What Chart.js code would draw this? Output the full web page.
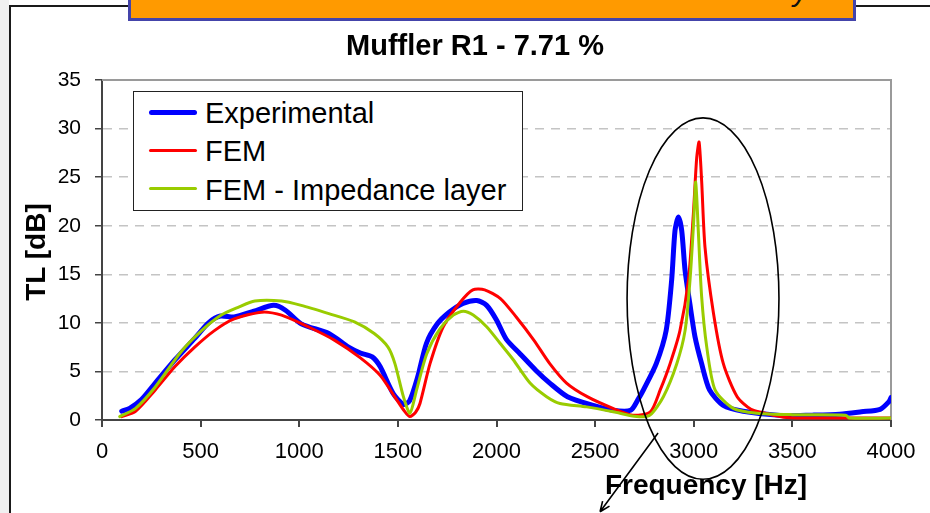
<!DOCTYPE html>
<html>
<head>
<meta charset="utf-8">
<script src="https://cdn.jsdelivr.net/npm/chart.js@4.4.1/dist/chart.umd.min.js"></script>
<style>
  html, body { margin: 0; padding: 0; background: #fff; }
  #wrap { position: relative; width: 930px; height: 513px; overflow: hidden; font-family: "Liberation Sans", Arial, sans-serif; background: #fff; }
  #side { position: absolute; left: 0; top: 0; width: 9px; height: 513px; background: #f0f0f0; }
  #frame { position: absolute; left: 9px; top: 5px; width: 1000px; height: 600px; border-left: 2px solid #1a1a1a; border-top: 2px solid #1a1a1a; box-sizing: border-box; }
  #banner { position: absolute; left: 128px; top: -12px; width: 728px; height: 33px; background: #ff9a00; border: 3px solid #4444aa; box-sizing: border-box; overflow: hidden; }
  #banner span { position: absolute; left: 662px; top: -15px; font: italic 30px/30px "Liberation Sans", Arial, sans-serif; color: #111; }
  #chart { position: absolute; left: 0; top: 0; }
  .txt { position: absolute; color: #000; white-space: nowrap; font-weight: bold; }
  #title { left: 225px; top: 31px; width: 500px; text-align: center; font-size: 29px; line-height: 29px; }
  #xTitle { left: 556px; top: 471px; width: 300px; text-align: center; font-size: 28px; line-height: 28px; }
  #yTitle { left: -64px; top: 238px; width: 200px; text-align: center; font-size: 28px; line-height: 28px; transform: rotate(-90deg); }
  #legend { position: absolute; left: 133px; top: 91px; width: 390px; height: 120px; border: 1px solid #222; box-sizing: border-box; background: #fff; }
  .lrow { position: absolute; left: 0; font-size: 29px; line-height: 28px; color: #000; white-space: nowrap; }
  .lline { position: absolute; left: 15px; width: 48px; border-radius: 3px; }
  .ltext { position: absolute; left: 71px; top: 0; }
</style>
</head>
<body>
<div id="wrap">
  <div id="side"></div>
  <div id="frame"></div>
  <canvas id="chart" width="930" height="513"></canvas>
  <div id="banner"><span>y</span></div>
  <div class="txt" id="title">Muffler R1 - 7.71 %</div>
  <div class="txt" id="yTitle">TL [dB]</div>
  <div class="txt" id="xTitle">Frequency [Hz]</div>
  <div id="legend"></div>
</div>
<script>
const seriesNames = ["Experimental", "FEM", "FEM - Impedance layer"];
const seriesColors = ["#0000ff", "#ff0000", "#99cc00"];
const seriesWidths = [5, 3, 3];

const xTickLabels = ["0", "500", "1000", "1500", "2000", "2500", "3000", "3500", "4000"];
const yTickLabels = ["0", "5", "10", "15", "20", "25", "30", "35"];

// Experimental
const expFreq = [100, 140, 200, 270, 370, 470, 540, 600, 670, 770, 870, 930, 1010, 1150, 1250, 1310, 1370, 1410, 1477, 1530, 1560, 1600, 1645, 1700, 1760, 1830, 1900, 1950, 2000, 2050, 2120, 2200, 2270, 2360, 2490, 2590, 2680, 2720, 2745, 2810, 2860, 2888, 2905, 2922, 2939, 2956, 2980, 3006, 3040, 3080, 3150, 3250, 3450, 3600, 3740, 3850, 3945, 3990, 4000];
const expTL = [0.9, 1.2, 2.1, 3.8, 6.2, 8.4, 10.0, 10.7, 10.6, 11.2, 11.8, 11.3, 9.9, 8.9, 7.5, 6.9, 6.5, 5.5, 2.7, 1.6, 2.0, 4.4, 7.9, 9.9, 11.1, 12.0, 12.3, 11.8, 10.3, 8.3, 6.8, 5.1, 3.8, 2.4, 1.5, 1.0, 1.0, 2.2, 3.1, 5.8, 9.2, 14.4, 19.5, 20.9, 19.5, 15.4, 12.0, 8.6, 5.8, 3.1, 1.5, 0.9, 0.45, 0.5, 0.6, 0.85, 1.1, 1.9, 2.3];

// FEM
const femFreq = [100, 170, 270, 370, 470, 570, 670, 810, 910, 1045, 1180, 1310, 1410, 1490, 1530, 1560, 1590, 1612, 1663, 1730, 1815, 1880, 1940, 2020, 2100, 2190, 2270, 2355, 2460, 2590, 2690, 2780, 2830, 2880, 2930, 2973, 2998, 3015, 3027, 3040, 3057, 3100, 3150, 3220, 3290, 3350, 3470, 3700, 4000];
const femTL = [0.35, 0.9, 3.1, 5.5, 7.5, 9.2, 10.4, 11.1, 10.8, 9.6, 8.2, 6.4, 4.6, 2.2, 1.0, 0.35, 0.8, 1.7, 5.8, 9.6, 12.1, 13.4, 13.4, 12.5, 10.6, 8.2, 5.8, 3.8, 2.4, 1.2, 0.5, 0.85, 3.1, 5.8, 9.2, 14.4, 21.2, 27.0, 28.6, 24.6, 17.8, 11.0, 5.8, 2.4, 1.1, 0.75, 0.25, 0.2, 0.2];

// FEM - Impedance layer
const impFreq = [90, 170, 270, 400, 505, 605, 690, 775, 910, 1010, 1150, 1280, 1380, 1450, 1485, 1528, 1561, 1595, 1646, 1714, 1781, 1832, 1882, 1950, 2018, 2085, 2170, 2254, 2322, 2457, 2592, 2711, 2778, 2846, 2914, 2956, 2981, 2999, 3010, 3023, 3040, 3066, 3108, 3200, 3320, 3500, 3770, 3790, 4000];
const impTL = [0.35, 1.2, 3.4, 7.0, 9.2, 10.8, 11.6, 12.25, 12.25, 11.8, 10.95, 10.1, 8.9, 7.5, 5.8, 2.4, 0.7, 3.1, 6.8, 9.4, 10.8, 11.2, 10.8, 9.6, 7.9, 6.2, 3.8, 2.4, 1.7, 1.35, 0.85, 0.35, 0.5, 2.4, 5.8, 9.2, 14.4, 20.2, 24.5, 19.5, 12.7, 7.5, 3.1, 1.2, 0.7, 0.55, 0.5, 0.2, 0.2];

const seriesFreq = [expFreq, femFreq, impFreq];
const seriesTL = [expTL, femTL, impTL];

const fontFamily = '"Liberation Sans", Arial, sans-serif';

function toPoints(xs, ys) {
  return xs.map((x, i) => ({ x, y: ys[i] }));
}

// legend built from the series lists
const legendEl = document.getElementById("legend");
legendEl.innerHTML = seriesNames
  .map((name, i) => {
    const top = 7 + 38.3 * i;
    return `<div class="lrow" style="top:${top}px;width:100%;height:30px">
      <div class="lline" style="top:${13 - seriesWidths[i] / 2}px;height:${seriesWidths[i]}px;background:${seriesColors[i]}"></div>
      <div class="ltext">${name}</div>
    </div>`;
  })
  .join("");

const plotFrame = {
  id: "plotFrame",
  beforeDatasetsDraw(chart) {
    const { ctx, chartArea } = chart;
    ctx.save();
    ctx.strokeStyle = "#9a9a9a";
    ctx.lineWidth = 2;
    ctx.beginPath();
    ctx.moveTo(chartArea.left, chartArea.top);
    ctx.lineTo(chartArea.right, chartArea.top);
    ctx.lineTo(chartArea.right, chartArea.bottom);
    ctx.stroke();
    ctx.restore();
  },
  afterDatasetsDraw(chart) {
    const { ctx, scales } = chart;
    const x = scales.x;
    const y = scales.y;
    // ellipse around the resonance peaks
    const cx = x.getPixelForValue(3047);
    const cy = y.getPixelForValue(12.5);
    const rx = x.getPixelForValue(3047 + 385) - cx;
    const ry = cy - y.getPixelForValue(12.5 + 18.6);
    ctx.save();
    ctx.strokeStyle = "#000";
    ctx.lineWidth = 1.6;
    ctx.beginPath();
    ctx.ellipse(cx, cy, rx, ry, 0, 0, Math.PI * 2);
    ctx.stroke();
    // arrow
    const x1 = x.getPixelForValue(2819);
    const y1 = y.getPixelForValue(-1.33);
    const x2 = x.getPixelForValue(2525);
    const y2 = y.getPixelForValue(-9.45);
    ctx.beginPath();
    ctx.moveTo(x1, y1);
    ctx.lineTo(x2, y2);
    const ang = Math.atan2(y2 - y1, x2 - x1);
    ctx.moveTo(x2, y2);
    ctx.lineTo(x2 - 11 * Math.cos(ang - 0.4), y2 - 11 * Math.sin(ang - 0.4));
    ctx.moveTo(x2, y2);
    ctx.lineTo(x2 - 11 * Math.cos(ang + 0.4), y2 - 11 * Math.sin(ang + 0.4));
    ctx.stroke();
    ctx.restore();
  },
};

new Chart(document.getElementById("chart"), {
  type: "scatter",
  data: {
    datasets: seriesNames.map((name, i) => ({
      label: name,
      data: toPoints(seriesFreq[i], seriesTL[i]),
      showLine: true,
      borderColor: seriesColors[i],
      backgroundColor: seriesColors[i],
      borderWidth: seriesWidths[i],
      pointRadius: 0,
      tension: 0.25,
      borderJoinStyle: "round",
      borderCapStyle: "round",
      order: 3 - i,
    })),
  },
  options: {
    responsive: false,
    animation: false,
    devicePixelRatio: 1,
    layout: { padding: { top: 80, right: 39, left: 0, bottom: 0 } },
    plugins: {
      legend: { display: false },
      title: { display: false },
      tooltip: { enabled: false },
    },
    scales: {
      x: {
        type: "linear",
        min: 0,
        max: 4000,
        ticks: {
          stepSize: 500,
          color: "#000",
          font: { family: fontFamily, size: 22 },
          padding: 12,
          maxRotation: 0,
          autoSkip: false,
          callback: (v, i) => xTickLabels[i],
        },
        grid: { drawOnChartArea: false, tickLength: 7, tickColor: "#444", color: "#444", lineWidth: 2 },
        border: { color: "#444", width: 2 },
        afterFit(scale) {
          scale.height = 93;
        },
      },
      y: {
        min: 0,
        max: 35,
        ticks: {
          stepSize: 5,
          color: "#000",
          font: { family: fontFamily, size: 21 },
          padding: 14,
          callback: (v, i) => yTickLabels[i],
        },
        grid: {
          color: (c) => (c.tick && (c.tick.value === 0 || c.tick.value === 35) ? "rgba(0,0,0,0)" : "#c4c4c4"),
          tickColor: "#444",
          tickLength: 7,
          tickBorderDash: [],
          lineWidth: 1.5,
        },
        border: { color: "#444", width: 2, dash: [9, 7] },
        afterFit(scale) {
          scale.width = 102;
        },
      },
    },
  },
  plugins: [plotFrame],
});
</script>
</body>
</html>
